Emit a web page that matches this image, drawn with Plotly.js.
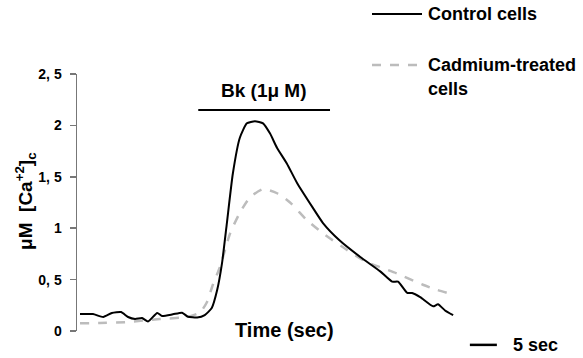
<!DOCTYPE html>
<html><head><meta charset="utf-8">
<script src="https://cdn.plot.ly/plotly-3.0.1.min.js"></script>
<style>html,body{margin:0;padding:0;background:#fff;}#c{width:583px;height:358px;}</style>
</head><body><div id="c"></div>
<script>
// Time (sec) and [Ca2+]c (µM)
const controlTime = [0, 2.4, 4.3, 5.9, 7.6, 8.9, 10.2, 11.5, 12.6, 14.3, 15.2, 17.2, 18.9, 20.0, 21.7, 23.1, 24.4, 25.4, 26.3, 27.2, 28.3, 29.6, 30.9, 32.4, 33.9, 35.2, 36.5, 38.3, 40.2, 43.1, 45.0, 48.1, 51.9, 55.6, 57.8, 58.9, 60.6, 61.5, 63.0, 65.4, 66.3, 67.6, 69.1];
const controlCa = [0.165, 0.165, 0.136, 0.175, 0.184, 0.136, 0.117, 0.126, 0.092, 0.175, 0.146, 0.162, 0.178, 0.139, 0.131, 0.155, 0.223, 0.398, 0.66, 1.05, 1.53, 1.88, 2.02, 2.04, 2.02, 1.92, 1.78, 1.63, 1.44, 1.20, 1.05, 0.88, 0.72, 0.58, 0.48, 0.48, 0.37, 0.37, 0.33, 0.24, 0.26, 0.20, 0.155];
const cadmiumTime = [0, 3.7, 8.7, 14.8, 19.8, 22.2, 23.5, 24.6, 25.9, 27.8, 29.6, 31.5, 33.9, 36.5, 38.9, 42.0, 45.0, 49.4, 53.1, 55.6, 58.7, 63.5, 66.1, 68.1];
const cadmiumCa = [0.075, 0.078, 0.087, 0.117, 0.136, 0.18, 0.28, 0.45, 0.62, 0.95, 1.15, 1.30, 1.38, 1.34, 1.25, 1.08, 0.95, 0.79, 0.67, 0.62, 0.56, 0.45, 0.40, 0.37];
const yTickVals = [0, 0.5, 1, 1.5, 2, 2.5];
const yTickText = ["0", "0, 5", "1", "1, 5", "2", "2, 5"];
const bkStart = 21.9, bkEnd = 46.3, bkLevel = 2.15;
const scaleBarSec = 5, scaleBarStart = 72.2;

const F = "Liberation Sans, Arial, Helvetica, sans-serif";
const traces = [
  {x: cadmiumTime, y: cadmiumCa, mode: 'lines', name: 'Cadmium-treated cells',
   line: {color: '#bcbcbc', width: 2.5, dash: 'dash', shape: 'spline', smoothing: 0.6}},
  {x: controlTime, y: controlCa, mode: 'lines', name: 'Control cells',
   line: {color: '#000', width: 2, shape: 'spline', smoothing: 0.5}}
];
const layout = {
  width: 583, height: 358,
  margin: {l: 77, r: 6, t: 74, b: 27},
  paper_bgcolor: '#fff', plot_bgcolor: '#fff',
  showlegend: false,
  font: {family: F, color: '#000'},
  xaxis: {range: [-0.556, 92.04], showline: false, showgrid: false, zeroline: false,
          showticklabels: false, ticks: ''},
  yaxis: {range: [0, 2.5], showline: true, linecolor: '#777', linewidth: 1.5,
          ticks: 'outside', ticklen: 6, tickcolor: '#777', tickwidth: 1.5,
          ticklabelstandoff: 5,
          tickvals: yTickVals, ticktext: yTickText, showgrid: false, zeroline: false,
          tickfont: {family: F, size: 14, weight: 'bold', color: '#000'}},
  shapes: [
    {type: 'line', xref: 'x', yref: 'y', x0: bkStart, x1: bkEnd, y0: bkLevel, y1: bkLevel,
     line: {color: '#000', width: 2}},
    {type: 'line', xref: 'x', yref: 'paper', x0: scaleBarStart, x1: scaleBarStart + scaleBarSec,
     y0: -0.054, y1: -0.054, line: {color: '#000', width: 2.5}},
    {type: 'line', xref: 'paper', yref: 'paper', x0: 0.59, x1: 0.69, y0: 1.233, y1: 1.233,
     line: {color: '#000', width: 2}},
    {type: 'line', xref: 'paper', yref: 'paper', x0: 0.59, x1: 0.69, y0: 1.035, y1: 1.035,
     line: {color: '#bcbcbc', width: 2.5, dash: 'dash'}}
  ],
  annotations: [
    {text: 'Bk (1μ M)', xref: 'x', yref: 'y', x: (bkStart + bkEnd) / 2, y: 2.34, yanchor: 'middle',
     showarrow: false, font: {size: 19, weight: 'bold'}},
    {text: 'Time (sec)', xref: 'paper', yref: 'paper', x: 0.415, y: 0.004, yanchor: 'middle',
     showarrow: false, font: {size: 20, weight: 'bold'}},
    {text: '5 sec', xref: 'x', yref: 'paper', x: scaleBarStart + scaleBarSec + 2.7, xanchor: 'left',
     y: -0.054, yanchor: 'middle', showarrow: false, font: {size: 18, weight: 'bold'}},
    {text: 'μM  [Ca<sup>+2</sup>]<sub>c</sub>', xref: 'paper', yref: 'paper', x: -0.102, xanchor: 'center',
     y: 0.506, yanchor: 'middle', textangle: -90, showarrow: false, font: {size: 19, weight: 'bold'}},
    {text: 'Control cells', xref: 'paper', yref: 'paper', x: 0.698, y: 1.233, xanchor: 'left',
     yanchor: 'middle', showarrow: false, font: {size: 18, weight: 'bold'}},
    {text: 'Cadmium-treated', xref: 'paper', yref: 'paper', x: 0.698, y: 1.035, xanchor: 'left',
     yanchor: 'middle', showarrow: false, font: {size: 18, weight: 'bold'}},
    {text: 'cells', xref: 'paper', yref: 'paper', x: 0.698, y: 0.942, xanchor: 'left',
     yanchor: 'middle', showarrow: false, font: {size: 18, weight: 'bold'}}
  ]
};
Plotly.newPlot('c', traces, layout, {staticPlot: true, displayModeBar: false});
</script></body></html>
